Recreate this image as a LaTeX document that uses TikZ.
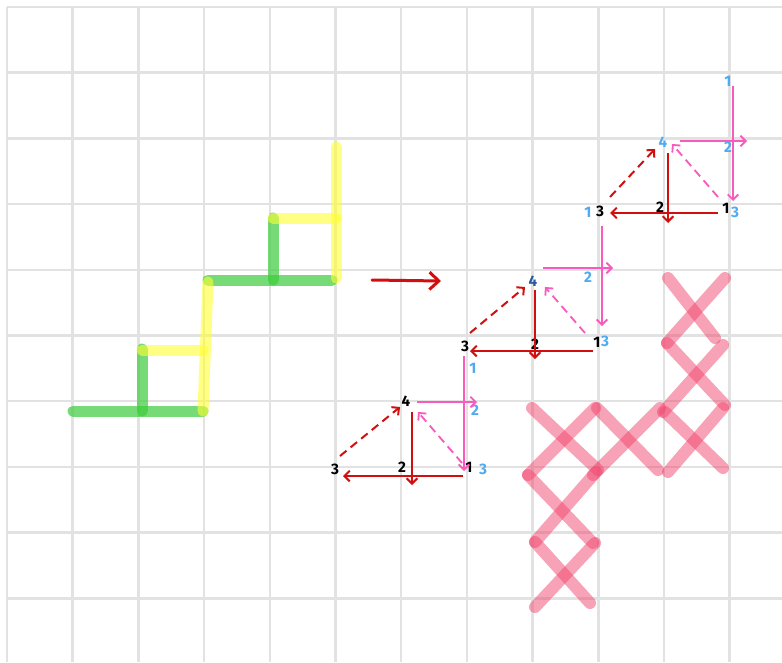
\documentclass[tikz,border=0pt]{standalone}
\usepackage{fontspec}
\setmainfont{Fira Sans}
\usetikzlibrary{arrows.meta}
\definecolor{gridc}{RGB}{226,226,226}
\definecolor{hgreen}{RGB}{60,205,60}
\definecolor{hyellow}{RGB}{255,255,50}
\definecolor{hpink}{RGB}{240,70,110}
\definecolor{redc}{RGB}{210,15,15}
\definecolor{pinkc}{RGB}{248,90,190}
\definecolor{bluec}{RGB}{80,170,240}
\definecolor{darkblue}{RGB}{40,90,160}
\tikzset{
  gridline/.style={draw=gridc,line width=0.075cm},
  greenmark/.style={draw=hgreen,draw opacity=0.7,line width=0.33cm,line cap=round},
  yellowmark/.style={draw=hyellow,draw opacity=0.6,line width=0.33cm,line cap=round},
  pinkmark/.style={draw=hpink,draw opacity=0.5,line width=0.36cm,line cap=round},
  redarrow/.style={draw=redc,line width=0.06cm,-{Straight Barb[length=1.6mm,width=3.2mm]}},
  pinkarrow/.style={draw=pinkc,line width=0.055cm,-{Straight Barb[length=1.6mm,width=3.2mm]}},
  reddash/.style={redarrow,dash pattern=on 0.25cm off 0.16cm},
  pinkdash/.style={pinkarrow,dash pattern=on 0.25cm off 0.16cm},
  bigarrow/.style={draw=redc,line width=0.09cm,line cap=round,-{Straight Barb[length=2.8mm,width=5.2mm]}},
  blk/.style={inner sep=0pt,font=\fontsize{13}{13}\selectfont\bfseries,text=black},
  blu/.style={inner sep=0pt,font=\fontsize{13}{13}\selectfont\bfseries,text=bluec},
}
\begin{document}
\begin{tikzpicture}[x=0.03cm,y=-0.03cm]
\useasboundingbox (0,0) rectangle (782,662);
\fill[white] (0,0) rectangle (782,662);
% grid
\foreach \k in {0,...,11} \draw[gridline] ({7+65.7*\k},7) -- ({7+65.7*\k},662);
\foreach \k in {0,...,9} \draw[gridline] (7,{7+65.7*\k}) -- (782,{7+65.7*\k});

% left staircase
\draw[greenmark] (73,411) -- (203,411);
\draw[greenmark] (142,349) -- (142,411);
\draw[greenmark] (208,280) -- (332,280);
\draw[greenmark] (273,218) -- (273,280);
\draw[yellowmark] (142,350) -- (203,350);
\draw[yellowmark] (208,282) -- (203,411);
\draw[yellowmark] (273,218) -- (336,218);
\draw[yellowmark] (336,147) -- (336,278);

% middle arrow
\coordinate (ms) at (372,280);
\coordinate (me) at (441,281);
\draw[bigarrow] (ms) -- (me);

% pink crosses
\draw[pinkmark] (668,278) -- (715,338);
\draw[pinkmark] (725,278) -- (667,343);
\draw[pinkmark] (667,343) -- (725,405);
\draw[pinkmark] (723,345) -- (663,412);
\draw[pinkmark] (665,412) -- (723,468);
\draw[pinkmark] (723,408) -- (668,472);
\draw[pinkmark] (532,408) -- (598,470);
\draw[pinkmark] (595,408) -- (528,475);
\draw[pinkmark] (597,408) -- (658,470);
\draw[pinkmark] (660,408) -- (593,475);
\draw[pinkmark] (528,475) -- (593,543);
\draw[pinkmark] (596,472) -- (535,542);
\draw[pinkmark] (535,542) -- (590,603);
\draw[pinkmark] (595,543) -- (535,607);

% ---------- triangle 1 ----------
\node[blk] (a3) at (335,469) {3};
\node[blk] (a2) at (402,467) {2};
\node[blk] (a4) at (406,401) {4};
\node[blk] (a1) at (469,467) {1};
\node[blu] (a1b) at (483,469) {3};
\node[blu] (a2b) at (475,410) {2};
\coordinate (p1a) at (463,476); \coordinate (p1b) at (343,476);
\coordinate (p1c) at (412,412); \coordinate (p1d) at (412,485);
\coordinate (p1e) at (340,456); \coordinate (p1f) at (400,407);
\coordinate (p1g) at (417,402); \coordinate (p1h) at (477,402);
\coordinate (p1i) at (464,356); \coordinate (p1j) at (464,471);
\coordinate (p1k) at (462,463); \coordinate (p1l) at (418,412);
\draw[redarrow] (p1a) -- (p1b);
\draw[redarrow] (p1c) -- (p1d);
\draw[reddash] (p1e) -- (p1f);
\draw[pinkarrow] (p1g) -- (p1h);
\draw[pinkarrow] (p1i) -- (p1j);
\draw[pinkdash] (p1k) -- (p1l);

% ---------- triangle 2 ----------
\node[blk,text=darkblue] (b4) at (533,281) {4};
\node[blk] (b3) at (465,346) {3};
\node[blk] (b2) at (535,344) {2};
\node[blk] (b1) at (597,342) {1};
\node[blu] (b1b) at (605,341) {3};
\node[blu] (b2b) at (588,277) {2};
\node[blu] (b0) at (473,368) {1};
\coordinate (p2a) at (593,351); \coordinate (p2b) at (470,351);
\coordinate (p2c) at (535,290); \coordinate (p2d) at (535,359);
\coordinate (p2e) at (470,333); \coordinate (p2f) at (525,287);
\coordinate (p2g) at (543,268); \coordinate (p2h) at (613,268);
\coordinate (p2i) at (602,226); \coordinate (p2j) at (602,326);
\coordinate (p2k) at (585,333); \coordinate (p2l) at (545,287);
\draw[redarrow] (p2a) -- (p2b);
\draw[redarrow] (p2c) -- (p2d);
\draw[reddash] (p2e) -- (p2f);
\draw[pinkarrow] (p2g) -- (p2h);
\draw[pinkarrow] (p2i) -- (p2j);
\draw[pinkdash] (p2k) -- (p2l);

% ---------- triangle 3 ----------
\node[blu] (c0) at (728,81) {1};
\node[blu] (c4) at (663,142) {4};
\node[blu] (c2b) at (728,147) {2};
\node[blk] (c3) at (600,211) {3};
\node[blu] (c3b) at (588,212) {1};
\node[blk] (c2) at (660,207) {2};
\node[blk] (c1) at (726,208) {1};
\node[blu] (c1b) at (735,212) {3};
\coordinate (p3a) at (718,213); \coordinate (p3b) at (610,213);
\coordinate (p3c) at (668,153); \coordinate (p3d) at (668,223);
\coordinate (p3e) at (610,197); \coordinate (p3f) at (655,149);
\coordinate (p3g) at (680,141); \coordinate (p3h) at (747,141);
\coordinate (p3i) at (733,86); \coordinate (p3j) at (733,201);
\coordinate (p3k) at (718,197); \coordinate (p3l) at (672,144);
\draw[redarrow] (p3a) -- (p3b);
\draw[redarrow] (p3c) -- (p3d);
\draw[reddash] (p3e) -- (p3f);
\draw[pinkarrow] (p3g) -- (p3h);
\draw[pinkarrow] (p3i) -- (p3j);
\draw[pinkdash] (p3k) -- (p3l);
\end{tikzpicture}
\end{document}
